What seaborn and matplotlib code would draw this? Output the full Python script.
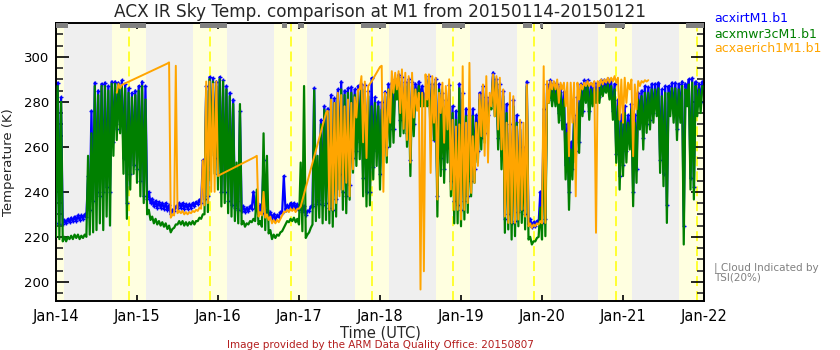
import matplotlib
matplotlib.use("Agg")
import matplotlib.pyplot as plt
from matplotlib.ticker import MultipleLocator
import pandas as pd
import seaborn as sns

# ---------------------------------------------------------------------------
# Hourly sky temperature ranges (K), hours since 2015-01-14 00:00 UTC.
# Each hour bin holds the lowest and highest value seen in that hour.
# ---------------------------------------------------------------------------
N = None

green_lo = [
    220, 219, 218, 218, 219, 219, 219.5, 219, 219.5, 220, 221, 222,
    223, 226, 223, 229, 225, 256, 263, 266, 248, 228, 241, 248,
    244, 238, 235, 230, 227.5, 226, 225.5, 225, 224.5, 223.5, 222, 224,
    225.5, 225.5, 225, 225, 225.5, 225.5, 227, 228, 230, 231, 256, 248,
    241, 233.5, 235, 230.5, 229, 227, 226, 225.5, 224.5, 225.5, 226.5, 227,
    225.5, 224.5, 223, 221.5, 219, 219.5, 220.5, 222.5, 225.5, 226.5, 227, 226.5,
    225.5, 222.5, 219.5, 222, 225.5, 227, 228.5, 226, 227.5, 226, 224.5, 229,
    241, 232, 230.5, 236.5, 248.5, 251.5, 254.5, 238, 233.5, 234, 245.5, 251.5,
    241, 256, 253, 260, 261.8, 281, 264.7, 266, 260, 247, 264.7, 276.6,
    278, 278, 278, 264.7, 263, 229, 247, 244, 253, 238, 226, 226,
    224.7, 227.7, 230.7, 238, 244, 253, 258.8, 261.8, 270.7, 276.6, 273.6, 258.8,
    250, 221.8, 223.3, 218.8, 220.3, 224.7, 226.2, 223.3, 218.8, 216.6, 218, 220,
    218.8, 220.3, 279.5, 278, 278, 270.7, 267.7, 245.5, 232, 245.5, 253, 257.3,
    273.6, 279.5, 272, 278, 279.5, 279.5, 282.5, 284, 281, 272, 252.9, 241,
    247, 253, 258.8, 233.6, 244, 267.7, 258.8, 266.2, 267.7, 270.7, 273.6, 248.4,
    242.5, 226.2, 273.6, 270.7, 263, 270.7, 216.6, 278, 241, 236.6, 273.6, 275,
]
green_hi = [
    287, 280, 220, 220, 220.5, 221, 221, 220.5, 221, 256, 266, 287,
    283, 287, 287, 285, 288, 288, 287.5, 287, 286, 284, 282, 283,
    285, 287, 281, 232, 229, 228, 227, 226.5, 226, 225, 223.5, 225.5,
    227, 227, 226.5, 226.5, 227, 227, 228.5, 230, 285, 290, 289, 287,
    290, 289, 285.5, 282.5, 279, 253, 279, 227, 226, 227, 228, 241,
    227, 266, 256, 223, 221, 221, 222, 224, 227, 228, 228.5, 228,
    253, 287, 221, 224, 285, 256, 270, 276.5, 275, 281, 279.5, 283,
    285.5, 283, 284, 284, 283, 284.5, 285.5, 285.5, 282.5, 278, 279.5, 278,
    276.5, 282.5, 285.5, 285.5, 287.7, 290.7, 289, 287, 288.5, 287, 285.5, 287,
    284, 281, 290, 285.5, 288.5, 285.5, 281, 278, 285.5, 275, 272, 286,
    281, 273.6, 270.7, 273.6, 270.7, 281, 284, 278, 279.5, 291.4, 288.5, 285.5,
    282.5, 275, 266.2, 278, 270.7, 267.7, 255.8, 287, 220, 218, 219.5, 233,
    270.7, 284, 287, 286, 285.5, 284, 281, 266.2, 258.8, 270.7, 279.5, 285.5,
    287, 287, 285.5, 286, 286, 287, 287, 287.7, 287, 285.5, 278, 270.7,
    275, 270.7, 276.6, 270.7, 281, 282.5, 284, 284, 285.5, 285.5, 286, 282.5,
    284, 284, 286, 286, 285.5, 287, 285.5, 287.7, 288.5, 287, 285.5, 287,
]

blue_lo = [
    226, 225.5, 225.5, 226, 226.5, 227, 227, 227.5, 228, 229, 232, 236,
    240, 238, 240, 242, 240, 262, 268, 270, 255, 235, 248, 252,
    250, 245, 238, 237, 235, 233.5, 233, 233, 232.5, 232, 230, 231.5,
    233, 233, 232.5, 232.5, 233, 233.5, 234.5, 235, 237, 238, 262, 255,
    248, 240, 240, 236, 234, 233, 232, 231.5, 231, 231.5, 232.5, 233,
    231.5, 230.5, 230, 229, 228, 227.5, 229, 230.5, 232, 233, 233, 232.5,
    232, 231, 229.5, 231.5, 233.5, 234.5, 234.5, 234, 235, 233, 232, 237,
    248, 240, 238, 243, 255, 258, 262, 246, 240, 240, 251, 258,
    248, 262, 260, 268, 268, 284, 272, 272, 266, 254, 270, 280,
    281, 280, 281, 270, 263, 238, 255, 250, 260, 245, 236, 234,
    232, 236, 238, 245, 250, 258, 264, 266, 274, 280, 278, 264,
    256, 228, 230, 226, 227, 231, 232, 230, 225.5, 224.5, 225, 226,
    226, 228, 283, 281, 281, 275, 272, 252, 240, 250, 258, 262,
    276, 282, 276, 281, 282, 282, 285, 286, 284, 276, 257, 247,
    252, 258, 263, 240, 250, 272, 264, 270, 272, 275, 278, 254,
    248, 234, 278, 275, 268, 275, 225, 282, 246, 242, 278, 280,
]
blue_hi = [
    288.5, 282, 227.5, 228, 228.5, 229, 229.5, 229.5, 230, 247, 276, 288.5,
    285, 288, 288.5, 287, 289, 289, 288.5, 289.5, 288, 286, 284, 285,
    287, 289, 287, 240, 237, 236, 235.5, 235, 235, 234, 232, 233.5,
    235, 235, 234.5, 234.5, 235, 235.5, 236.5, 254, 287, 291, 290.5, 289,
    291, 289.5, 287, 284, 281, 236, 276, 233.5, 233, 233.5, 240, 235,
    234, 254, 232, 231, 230, 229.5, 231, 247, 234, 235, 235, 234.5,
    234, 233.5, 231.5, 233.5, 286, 236.5, 272, 278, 277, 283, 281.5, 285.5,
    289, 285, 286, 286.5, 285.5, 287, 288, 287.5, 285, 290.5, 282, 280,
    280, 284.5, 288, 288.5, 290, 292, 291, 289, 290, 289, 288, 289,
    287, 284, 291.5, 288, 290, 288, 284, 281, 287.5, 278, 276, 288,
    284, 277, 274, 277, 274, 284, 287, 282, 282, 293, 290, 288,
    285, 279, 270, 281, 274, 271, 260, 289, 228, 226.5, 227, 240,
    277, 288, 289.5, 288.5, 288, 287, 284.5, 270, 262, 274, 282, 288,
    289.5, 289.5, 288, 288.5, 288.5, 289.5, 289.5, 290, 289.5, 288, 281, 274,
    278, 274, 279, 274, 284, 285, 287, 286.5, 288, 288, 288.5, 285.5,
    287, 287, 288.5, 288.5, 288, 289, 288, 290, 290.5, 289, 288, 289,
]

orange_lo = [
    N, N, N, N, N, N, N, N, N, N, N, N,
    N, N, N, N, N, N, 284, 286, N, N, N, N,
    N, N, N, N, N, N, N, N, N, 297, 228.5, 229.5,
    230.5, 230.5, 230, 230, 230.5, 231, 231.5, 232.5, 234, 235, 240, 240,
    247, N, N, N, N, N, N, N, N, N, N, 255.5,
    229, 229.5, 228.5, 227.5, 226, 226, 226.5, 229.5, 231, 231, 231.5, 231,
    232.5, N, N, N, N, N, N, N, 275, 232, 232, 235,
    238, 241, 244, 238, 250, 273, 285.5, 262, 255, 288, N, N,
    295.5, 240, 256, 270.7, 284, 285.5, 275, 268, 263, 253, 273, 276,
    196.6, 204.7, 281, 248.4, 270.7, 236.6, 275, 261.8, 267.7, 241, 232, 232,
    227.7, 232, 235, 239.5, 244, 251.5, 264.7, 256, 253, 278, 273.6, 267.7,
    258.8, 229, 226.2, 226.2, 226.2, 227.7, 232, 229, 224.7, 224, 224.7, 225.5,
    226, 226.2, 279.5, 285.5, 285.5, 279.5, 285.5, 278, 255.8, 270.7, 238, 281,
    285.5, 287, 287, 287, 221.8, 287, 287.7, 288.5, 288.5, 289, 288.5, 272,
    270.7, 279.5, 285.5, 255.8, 276.6, 287, 288.5, 289, N, N, N, N,
    N, N, N, N, N, N, N, N, N, N, N, N,
]
orange_hi = [
    N, N, N, N, N, N, N, N, N, N, N, N,
    N, N, N, N, N, N, 288, 287.5, N, N, N, N,
    N, N, N, N, N, N, N, N, N, 297.5, 230, 296,
    231.5, 231.5, 231, 231, 231.5, 232, 233, 254, 289, 289, 288, 289,
    247.5, N, N, N, N, N, N, N, N, N, N, 256,
    231, 240, 230, 229, 227.5, 227.5, 228, 231, 232, 232.5, 232.5, 232.5,
    233.5, N, N, N, N, N, N, N, 276, 281, 279.5, 284,
    283, 278, 281, 279.5, 282, 285.5, 291.4, 289, 287, 289, N, N,
    296, 284, 285.5, 293.6, 292.9, 293.6, 294.4, 292.9, 291.4, 292.9, 285.5, 284,
    284, 292.2, 292.2, 291.4, 290.7, 284, 288.5, 287, 290, 272, 269, 270,
    295.8, 270.7, 297.3, 264.7, 270.7, 283.3, 287.7, 291.4, 284, 292.2, 291.4, 290.7,
    285.5, 270.7, 284, 282.5, 269, 272, 270.7, 287.7, 226, 225.5, 226, 227,
    295.8, 289.2, 289.2, 289.2, 289.9, 288.5, 288.5, 288.5, 288.5, 288.5, 288.5, 287.7,
    288.5, 289.2, 288.5, 289.2, 289.2, 289.9, 289.9, 290.7, 290.7, 291.4, 290.7, 289.9,
    290.7, 288.5, 289.9, 287.7, 289.2, 289.2, 289.6, 289.6, N, N, N, N,
    N, N, N, N, N, N, N, N, N, N, N, N,
]

# Daylight intervals (hours) and local solar noon
day_start = [0.0, 16.6, 40.6, 64.6, 88.6, 112.6, 136.6, 160.6, 184.6]
day_end = [2.4, 26.7, 50.7, 74.4, 98.7, 122.7, 146.7, 170.7, 192.0]
solar_noon = [21.6, 45.6, 69.6, 93.6, 117.6, 141.6, 165.9, 189.9]

# Cloud flagged by TSI (20%) intervals, hours
cloud_start = [0.0, 19.0, 42.7, 67.0, 71.7, 90.4, 114.4, 138.4, 143.4, 162.7, 186.7]
cloud_end = [3.5, 26.7, 50.7, 68.4, 73.5, 97.8, 121.2, 141.0, 144.3, 168.6, 192.0]

day_labels = ["Jan-14", "Jan-15", "Jan-16", "Jan-17", "Jan-18",
              "Jan-19", "Jan-20", "Jan-21", "Jan-22"]

series_names = ["acxirtM1.b1", "acxmwr3cM1.b1", "acxaerich1M1.b1"]
series_colors = ["#0000ff", "#008000", "#ffa500"]


def hourly_trace(lo, hi):
    """Trace each hour bin from its low to its high value."""
    rows = []
    for hour, (a, b) in enumerate(zip(lo, hi)):
        if a is None or b is None:
            continue
        rows.append((hour, a))
        rows.append((hour + 0.5, b))
    return pd.DataFrame(rows, columns=["hour", "temp"])


sns.set_theme(style="ticks")
plt.rcParams["font.family"] = ["DejaVu Sans"]

fig = plt.figure(figsize=(8.4, 3.5), dpi=100)
ax = fig.add_axes([56 / 840, 49 / 350, 648 / 840, 278 / 350])

ymin, ymax = 191.5, 315.0
ax.set_facecolor("#efefef")
for s, e in zip(day_start, day_end):
    ax.axvspan(s, e, color="#ffffe0", lw=0, zorder=0)
for n in solar_noon:
    ax.axvline(n, color="#ffff00", lw=1.1, ls=(0, (6.5, 3.3)), zorder=0.5)

blue = hourly_trace(blue_lo, blue_hi)
green = hourly_trace(green_lo, green_hi)
orange = hourly_trace(orange_lo, orange_hi)

sns.lineplot(data=blue, x="hour", y="temp", ax=ax, estimator=None, sort=False,
             color=series_colors[0], lw=1.6, marker="+", markersize=3.5,
             markeredgewidth=1.0, markeredgecolor=series_colors[0], zorder=2)
sns.lineplot(data=green, x="hour", y="temp", ax=ax, estimator=None, sort=False,
             color=series_colors[1], lw=1.6, zorder=3)
sns.lineplot(data=orange, x="hour", y="temp", ax=ax, estimator=None, sort=False,
             color=series_colors[2], lw=1.4, zorder=4)

bar_h = 2.3
ax.broken_barh([(s, e - s) for s, e in zip(cloud_start, cloud_end)],
               (ymax - bar_h, bar_h), facecolors="#808080", lw=0, zorder=5)

ax.set_xlim(0, 192)
ax.set_ylim(ymin, ymax)
ax.set_xticks(range(0, 193, 24))
ax.set_xticklabels(day_labels, fontsize=10.5)
ax.set_yticks([200, 220, 240, 260, 280, 300])
ax.yaxis.set_minor_locator(MultipleLocator(5))
ax.tick_params(axis="x", which="major", direction="in", length=4.5, width=1.2,
               top=True, bottom=True, pad=6, colors="black")
ax.tick_params(axis="y", which="major", direction="in", length=9.5, width=1.2,
               left=True, right=True, pad=5, labelsize=9.5, colors="black")
ax.tick_params(axis="y", which="minor", direction="in", length=5, width=1.2,
               left=True, right=True)
for sp in ax.spines.values():
    sp.set_linewidth(1.4)
    sp.set_color("black")
    sp.set_visible(True)

ax.set_xlabel("Time (UTC)", fontsize=10.5, labelpad=1)
ax.set_ylabel("Temperature (K)", fontsize=9.5, labelpad=6)
ax.set_title("ACX IR Sky Temp. comparison at M1 from 20150114-20150121",
             fontsize=12.2, pad=4)

for i, (name, col) in enumerate(zip(series_names, series_colors)):
    fig.text(714 / 840, 1 - (19 + 15 * i) / 350, name, color=col,
             fontsize=9, va="center", ha="left")

fig.text(714 / 840, 1 - 268 / 350, "| Cloud Indicated by", color="#808080",
         fontsize=7.5, va="center", ha="left")
fig.text(714 / 840, 1 - 278 / 350, "TSI(20%)", color="#808080",
         fontsize=7.5, va="center", ha="left")

fig.text(380 / 840, 1 - 345 / 350,
         "Image provided by the ARM Data Quality Office: 20150807",
         color="#b41e1e", fontsize=7.5, va="center", ha="center")

fig.savefig("out.png", dpi=100)
